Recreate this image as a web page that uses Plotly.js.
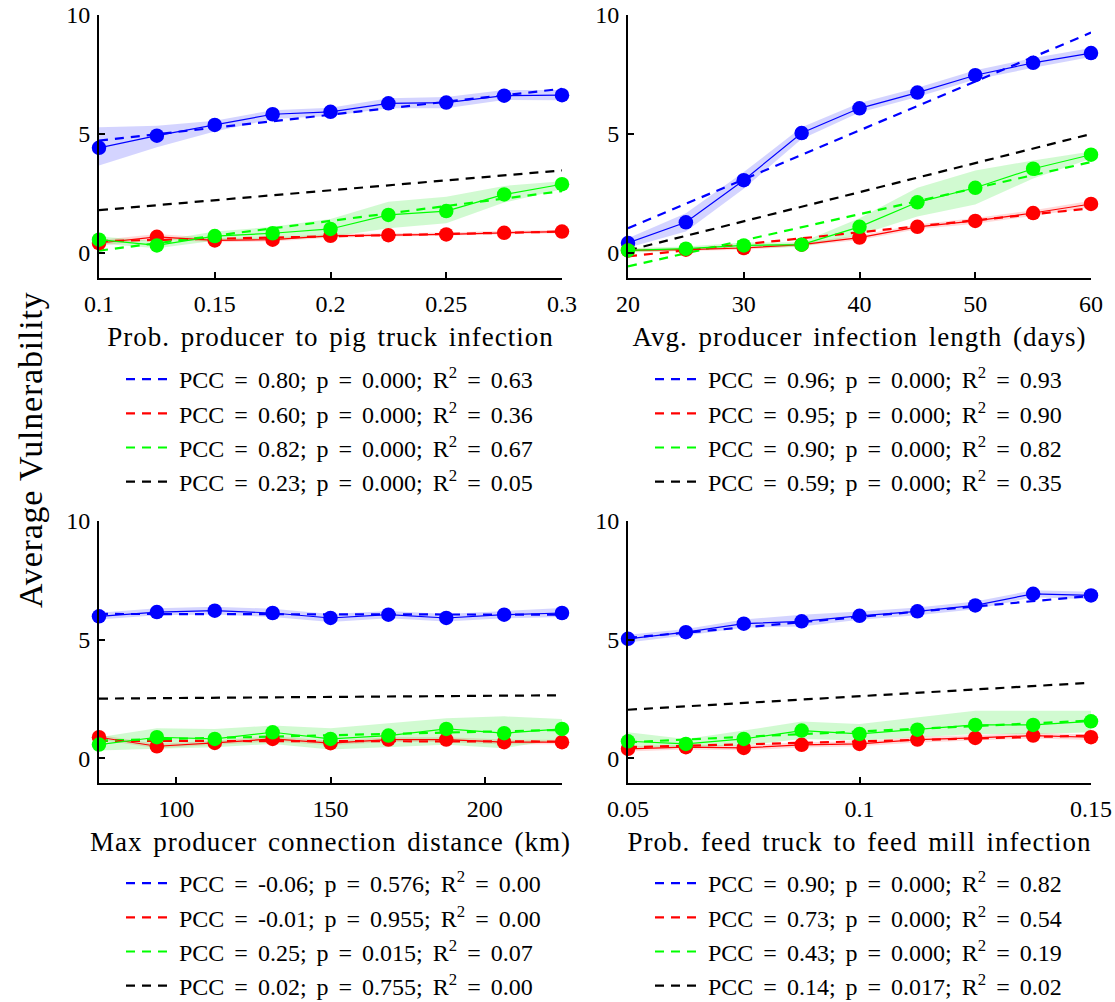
<!DOCTYPE html>
<html>
<head>
<meta charset="utf-8">
<script src="https://cdn.plot.ly/plotly-3.0.1.min.js"></script>
<style>
html,body{margin:0;padding:0;background:#fff}
.xtitle,.x2title,.x3title,.x4title{letter-spacing:1px;word-spacing:3px}
.annotation-text{letter-spacing:0.8px}
</style>
</head>
<body>
<div id="chart" style="width:1115px;height:1002px"></div>
<script>
// ---------- Panel 1: Prob. producer to pig truck infection ----------
const p1_x = [0.1, 0.125, 0.15, 0.175, 0.2, 0.225, 0.25, 0.275, 0.3];
const p1_blue = [4.42, 4.93, 5.38, 5.83, 5.93, 6.29, 6.32, 6.61, 6.63];
const p1_blue_hi = [5.28, 5.35, 5.56, 6.0, 6.1, 6.5, 6.55, 6.85, 6.85];
const p1_blue_lo = [3.68, 4.44, 5.1, 5.63, 5.76, 6.08, 6.08, 6.43, 6.42];
const p1_red = [0.42, 0.68, 0.53, 0.56, 0.72, 0.75, 0.78, 0.85, 0.9];
const p1_red_hi = [0.55, 0.8, 0.63, 0.65, 0.8, 0.83, 0.86, 0.93, 0.97];
const p1_red_lo = [0.3, 0.58, 0.45, 0.48, 0.64, 0.68, 0.71, 0.78, 0.83];
const p1_green = [0.56, 0.32, 0.71, 0.83, 1.01, 1.6, 1.76, 2.46, 2.89];
const p1_green_hi = [0.69, 0.5, 0.9, 1.1, 1.43, 2.15, 2.36, 2.82, 3.01];
const p1_green_lo = [0.4, 0.2, 0.52, 0.56, 0.67, 1.04, 1.25, 2.12, 2.68];
const p1_fit_x = [0.1, 0.3];
const p1_fit_blue = [4.72, 6.9];
const p1_fit_red = [0.5, 0.9];
const p1_fit_green = [0.1, 2.6];
const p1_fit_black = [1.8, 3.47];
const p1_ticks = [0.1, 0.15, 0.2, 0.25, 0.3];
const p1_ticktext = ['0.1', '0.15', '0.2', '0.25', '0.3'];
const p1_title = 'Prob. producer to pig truck infection';
const p1_legend = [
  'PCC = 0.80; p = 0.000; R<sup>2</sup> = 0.63',
  'PCC = 0.60; p = 0.000; R<sup>2</sup> = 0.36',
  'PCC = 0.82; p = 0.000; R<sup>2</sup> = 0.67',
  'PCC = 0.23; p = 0.000; R<sup>2</sup> = 0.05'
];

// ---------- Panel 2: Avg. producer infection length (days) ----------
const p2_x = [20, 25, 30, 35, 40, 45, 50, 55, 60];
const p2_blue = [0.42, 1.29, 3.06, 5.04, 6.08, 6.74, 7.47, 7.99, 8.4];
const p2_blue_hi = [0.62, 1.67, 3.4, 5.28, 6.3, 6.94, 7.68, 8.19, 8.61];
const p2_blue_lo = [0.22, 0.9, 2.7, 4.79, 5.9, 6.56, 7.29, 7.78, 8.24];
const p2_red = [0.11, 0.14, 0.21, 0.35, 0.65, 1.1, 1.35, 1.68, 2.06];
const p2_red_hi = [0.18, 0.2, 0.28, 0.42, 0.75, 1.2, 1.47, 1.8, 2.2];
const p2_red_lo = [0.04, 0.08, 0.14, 0.28, 0.55, 1.0, 1.23, 1.56, 1.92];
const p2_green = [0.11, 0.18, 0.32, 0.35, 1.1, 2.13, 2.74, 3.54, 4.13];
const p2_green_hi = [0.2, 0.27, 0.44, 0.45, 1.46, 2.74, 3.47, 3.89, 4.26];
const p2_green_lo = [0.02, 0.09, 0.2, 0.25, 0.76, 1.53, 2.04, 3.13, 3.96];
const p2_fit_x = [20, 60];
const p2_fit_blue = [1.04, 9.26];
const p2_fit_red = [-0.14, 1.88];
const p2_fit_green = [-0.56, 3.82];
const p2_fit_black = [0.11, 5.0];
const p2_ticks = [20, 30, 40, 50, 60];
const p2_ticktext = ['20', '30', '40', '50', '60'];
const p2_title = 'Avg. producer infection length (days)';
const p2_legend = [
  'PCC = 0.96; p = 0.000; R<sup>2</sup> = 0.93',
  'PCC = 0.95; p = 0.000; R<sup>2</sup> = 0.90',
  'PCC = 0.90; p = 0.000; R<sup>2</sup> = 0.82',
  'PCC = 0.59; p = 0.000; R<sup>2</sup> = 0.35'
];

// ---------- Panel 3: Max producer connection distance (km) ----------
const p3_x = [75, 93.75, 112.5, 131.25, 150, 168.75, 187.5, 206.25, 225];
const p3_blue = [5.98, 6.16, 6.22, 6.12, 5.91, 6.05, 5.91, 6.05, 6.12];
const p3_blue_hi = [6.13, 6.32, 6.38, 6.3, 6.08, 6.2, 6.08, 6.22, 6.33];
const p3_blue_lo = [5.85, 6.02, 6.06, 5.95, 5.74, 5.9, 5.76, 5.9, 5.95];
const p3_red = [0.88, 0.5, 0.64, 0.81, 0.63, 0.78, 0.78, 0.67, 0.67];
const p3_red_hi = [0.98, 0.6, 0.74, 0.92, 0.73, 0.88, 0.88, 0.78, 0.77];
const p3_red_lo = [0.78, 0.42, 0.55, 0.7, 0.54, 0.68, 0.68, 0.57, 0.58];
const p3_green = [0.57, 0.88, 0.81, 1.09, 0.81, 0.95, 1.23, 1.05, 1.23];
const p3_green_hi = [0.88, 1.26, 1.23, 1.37, 1.26, 1.48, 1.68, 1.76, 1.65];
const p3_green_lo = [0.32, 0.39, 0.46, 0.6, 0.36, 0.46, 0.56, 0.42, 0.81];
const p3_fit_x = [75, 225];
const p3_fit_blue = [6.08, 6.05];
const p3_fit_red = [0.73, 0.70];
const p3_fit_green = [0.74, 1.19];
const p3_fit_black = [2.51, 2.65];
const p3_ticks = [100, 150, 200];
const p3_ticktext = ['100', '150', '200'];
const p3_title = 'Max producer connection distance (km)';
const p3_legend = [
  'PCC = -0.06; p = 0.576; R<sup>2</sup> = 0.00',
  'PCC = -0.01; p = 0.955; R<sup>2</sup> = 0.00',
  'PCC = 0.25; p = 0.015; R<sup>2</sup> = 0.07',
  'PCC = 0.02; p = 0.755; R<sup>2</sup> = 0.00'
];

// ---------- Panel 4: Prob. feed truck to feed mill infection ----------
const p4_x = [0.05, 0.0625, 0.075, 0.0875, 0.1, 0.1125, 0.125, 0.1375, 0.15];
const p4_blue = [5.03, 5.31, 5.67, 5.77, 6.0, 6.19, 6.44, 6.93, 6.86];
const p4_blue_hi = [5.2, 5.45, 5.85, 6.05, 6.18, 6.35, 6.6, 7.08, 7.02];
const p4_blue_lo = [4.88, 5.17, 5.5, 5.55, 5.83, 6.03, 6.28, 6.78, 6.7];
const p4_red = [0.39, 0.46, 0.43, 0.56, 0.6, 0.78, 0.85, 0.95, 0.88];
const p4_red_hi = [0.5, 0.56, 0.54, 0.67, 0.71, 0.9, 0.97, 1.07, 1.0];
const p4_red_lo = [0.28, 0.36, 0.33, 0.45, 0.5, 0.66, 0.73, 0.83, 0.76];
const p4_green = [0.71, 0.6, 0.81, 1.16, 1.02, 1.2, 1.4, 1.4, 1.55];
const p4_green_hi = [1.09, 0.81, 1.16, 1.54, 1.44, 1.72, 2.0, 2.0, 2.0];
const p4_green_lo = [0.46, 0.46, 0.53, 0.81, 0.74, 0.88, 1.02, 1.02, 1.09];
const p4_fit_x = [0.05, 0.15];
const p4_fit_blue = [5.07, 6.84];
const p4_fit_red = [0.46, 0.95];
const p4_fit_green = [0.67, 1.58];
const p4_fit_black = [2.04, 3.18];
const p4_ticks = [0.05, 0.1, 0.15];
const p4_ticktext = ['0.05', '0.1', '0.15'];
const p4_title = 'Prob. feed truck to feed mill infection';
const p4_legend = [
  'PCC = 0.90; p = 0.000; R<sup>2</sup> = 0.82',
  'PCC = 0.73; p = 0.000; R<sup>2</sup> = 0.54',
  'PCC = 0.43; p = 0.000; R<sup>2</sup> = 0.19',
  'PCC = 0.14; p = 0.017; R<sup>2</sup> = 0.02'
];

const yTicks = [0, 5, 10];
const yTitle = 'Average Vulnerability';

// ---------- build ----------
const FONT = 'Liberation Serif, Times New Roman, serif';
const W = 1115, H = 1002;
const COL = {blue: '#0000ff', red: '#ff0000', green: '#00ff00', black: '#000000'};
const BAND = {blue: 'rgba(0,0,255,0.17)', red: 'rgba(255,0,0,0.15)', green: 'rgba(0,230,0,0.18)'};

const panels = [
  {x: p1_x, s: {blue: [p1_blue, p1_blue_hi, p1_blue_lo], red: [p1_red, p1_red_hi, p1_red_lo], green: [p1_green, p1_green_hi, p1_green_lo]},
   fx: p1_fit_x, fit: {blue: p1_fit_blue, red: p1_fit_red, green: p1_fit_green, black: p1_fit_black},
   ticks: p1_ticks, ticktext: p1_ticktext, title: p1_title, legend: p1_legend},
  {x: p2_x, s: {blue: [p2_blue, p2_blue_hi, p2_blue_lo], red: [p2_red, p2_red_hi, p2_red_lo], green: [p2_green, p2_green_hi, p2_green_lo]},
   fx: p2_fit_x, fit: {blue: p2_fit_blue, red: p2_fit_red, green: p2_fit_green, black: p2_fit_black},
   ticks: p2_ticks, ticktext: p2_ticktext, title: p2_title, legend: p2_legend},
  {x: p3_x, s: {blue: [p3_blue, p3_blue_hi, p3_blue_lo], red: [p3_red, p3_red_hi, p3_red_lo], green: [p3_green, p3_green_hi, p3_green_lo]},
   fx: p3_fit_x, fit: {blue: p3_fit_blue, red: p3_fit_red, green: p3_fit_green, black: p3_fit_black},
   ticks: p3_ticks, ticktext: p3_ticktext, title: p3_title, legend: p3_legend},
  {x: p4_x, s: {blue: [p4_blue, p4_blue_hi, p4_blue_lo], red: [p4_red, p4_red_hi, p4_red_lo], green: [p4_green, p4_green_hi, p4_green_lo]},
   fx: p4_fit_x, fit: {blue: p4_fit_blue, red: p4_fit_red, green: p4_fit_green, black: p4_fit_black},
   ticks: p4_ticks, ticktext: p4_ticktext, title: p4_title, legend: p4_legend}
];

// pixel geometry of axes boxes
const colX = [[99, 562], [628, 1091]];
const rowY = [[15, 278], [521, 783]];
const legendTop = [357, 861];

const traces = [];
const layout = {
  width: W, height: H,
  margin: {l: 0, r: 0, t: 0, b: 0, autoexpand: false},
  paper_bgcolor: '#fff', plot_bgcolor: 'rgba(0,0,0,0)',
  font: {family: FONT, color: '#000', size: 24},
  annotations: [],
  showlegend: true
};

panels.forEach((p, i) => {
  const n = i + 1;
  const xa = n === 1 ? 'x' : 'x' + n;
  const ya = n === 1 ? 'y' : 'y' + n;
  const r = Math.floor(i / 2);
  const col = colX[i % 2], row = rowY[r];
  const legName = n === 1 ? 'legend' : 'legend' + n;

  ['blue', 'red', 'green'].forEach(c => {
    const [m, hi, lo] = p.s[c];
    traces.push({
      x: p.x.concat(p.x.slice().reverse()),
      y: hi.concat(lo.slice().reverse()),
      xaxis: xa, yaxis: ya, type: 'scatter', mode: 'lines',
      fill: 'toself', fillcolor: BAND[c], line: {width: 0, color: BAND[c]},
      showlegend: false, hoverinfo: 'skip'
    });
  });
  ['blue', 'red', 'green', 'black'].forEach((c, k) => {
    traces.push({
      x: p.fx, y: p.fit[c], xaxis: xa, yaxis: ya, type: 'scatter', mode: 'lines',
      line: {color: COL[c], width: 2.2, dash: '9px,7px'},
      name: '<span style="word-spacing:4px">' + p.legend[k] + '</span>',
      legend: legName, legendgroup: 'g' + n + c,
      cliponaxis: false
    });
  });
  ['blue', 'red', 'green'].forEach(c => {
    traces.push({
      x: p.x, y: p.s[c][0], xaxis: xa, yaxis: ya, type: 'scatter', mode: 'lines+markers',
      line: {color: COL[c], width: 1.2},
      marker: {color: COL[c], size: 14.5},
      showlegend: false, cliponaxis: false
    });
  });

  layout['xaxis' + (n === 1 ? '' : n)] = {
    domain: [col[0] / W, col[1] / W], anchor: ya,
    range: [p.x[0], p.x[p.x.length - 1]],
    tickvals: p.ticks, ticktext: p.ticktext,
    ticks: 'inside', ticklen: 6, tickwidth: 2, tickcolor: '#000',
    showline: true, linewidth: 2, linecolor: '#000',
    showgrid: false, zeroline: false,
    tickfont: {family: FONT, size: 24, color: '#000'},
    ticklabelstandoff: 3,
    title: {text: p.title, font: {family: FONT, size: 27, color: '#000'}, standoff: 11}
  };
  layout['yaxis' + (n === 1 ? '' : n)] = {
    domain: [1 - row[1] / H, 1 - row[0] / H], anchor: xa,
    range: [-1.05, 10],
    tickvals: yTicks,
    ticks: 'inside', ticklen: 6, tickwidth: 2, tickcolor: '#000',
    showline: true, linewidth: 2, linecolor: '#000',
    showgrid: false, zeroline: false,
    tickfont: {family: FONT, size: 24, color: '#000'},
    ticklabelstandoff: 2
  };
  layout[legName] = {
    x: (col[0] + 22) / W, y: 1 - legendTop[r] / H,
    xanchor: 'left', yanchor: 'top',
    bgcolor: 'rgba(0,0,0,0)', borderwidth: 0,
    font: {family: FONT, size: 24, color: '#000'},
    tracegroupgap: 3, itemwidth: 48,
    traceorder: 'normal'
  };
});

layout.annotations.push({
  text: yTitle, textangle: -90, xref: 'paper', yref: 'paper',
  x: 30 / W, y: 1 - 450 / H, xanchor: 'center', yanchor: 'middle',
  showarrow: false, font: {family: FONT, size: 34, color: '#000'}
});

Plotly.newPlot('chart', traces, layout, {displayModeBar: false, staticPlot: true});
</script>
</body>
</html>
